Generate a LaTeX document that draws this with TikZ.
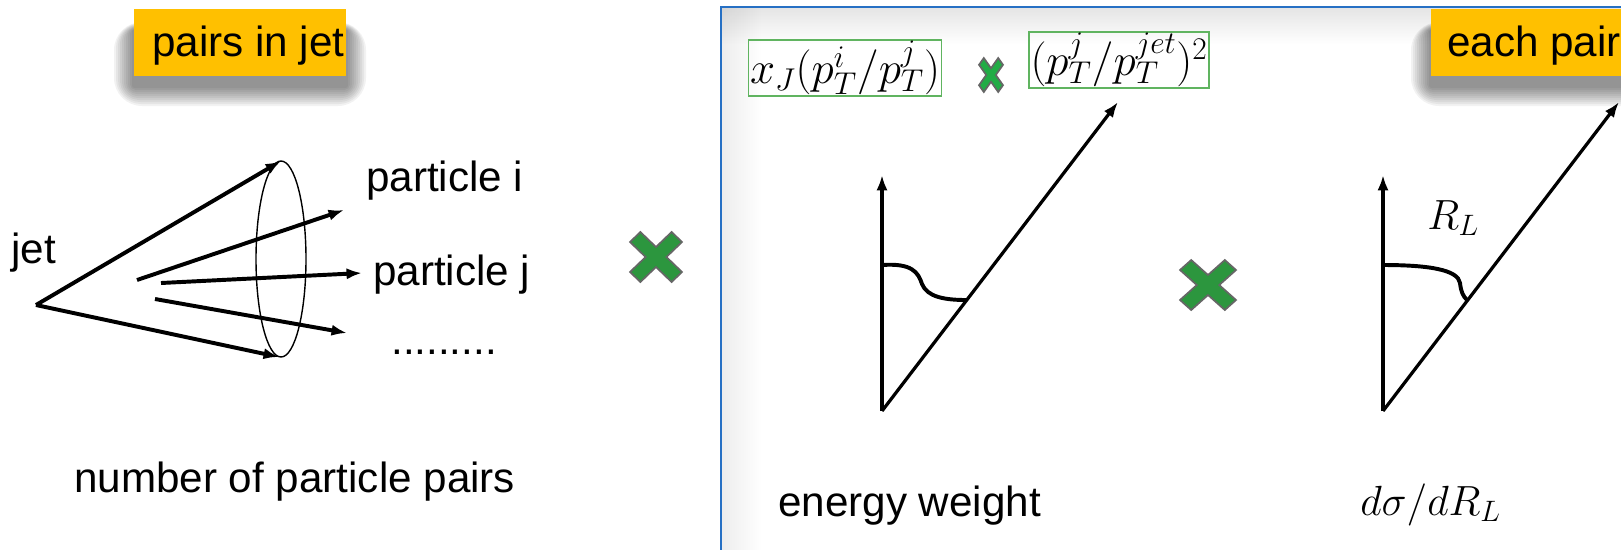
\RequirePackage{fix-cm}
\documentclass[tikz,border=0pt]{standalone}
\usepackage[no-math]{fontspec}
\setmainfont{Liberation Sans}
\usetikzlibrary{arrows.meta,fadings}

\definecolor{orangepp}{RGB}{255,192,0}
\definecolor{vertx}{RGB}{44,150,62}
\definecolor{vertclair}{RGB}{34,172,70}
\definecolor{vertcadre}{RGB}{96,180,96}
\definecolor{bleucadre}{RGB}{38,112,196}

\tikzfading[name=versbas, top color=transparent!0, bottom color=transparent!100]
\tikzfading[name=versdroite, left color=transparent!0, right color=transparent!100]

\tikzset{
  fleche/.style={line width=2.3pt, -{Latex[length=11pt,width=8pt]}},
  arc/.style={line width=2.8pt},
  texte/.style={inner sep=0pt, anchor=base west, font=\fontsize{30}{36}\selectfont},
  formule/.style={draw=vertcadre, line width=1pt, inner sep=1pt,
    minimum height=1.35cm, font=\fontsize{32}{38}\selectfont},
  croix/.pic={
    \filldraw[draw=black!60, line width=1.2pt, pic actions]
      (0,0.4) -- (0.6,1) -- (1,0.6) -- (0.4,0) -- (1,-0.6) -- (0.6,-1)
      -- (0,-0.4) -- (-0.6,-1) -- (-1,-0.6) -- (-0.4,0) -- (-1,0.6) -- (-0.6,1) -- cycle;
  }
}

\begin{document}
\begin{tikzpicture}[x=0.025cm, y=-0.025cm]
        \useasboundingbox (0,0) rectangle (1621,549);
        \fill[white] (0,0) rectangle (1621,549);
        % Cadre de droite avec ombre interieure
        \fill[black, opacity=0.10, path fading=versbas] (722,8) rectangle (1640,44);
        \fill[black, opacity=0.07, path fading=versdroite] (722,8) rectangle (762,570);
        \draw[bleucadre, line width=2pt] (721,7) rectangle (1640,570);
        % Etiquettes orange avec ombre
        \foreach \s in {2,4,...,20} {
          \fill[black, opacity=0.05, rounded corners=\s pt] (134-\s,30-0.4*\s) rectangle (346+\s,86+\s);
          \fill[black, opacity=0.05, rounded corners=\s pt] (1431-\s,30-0.4*\s) rectangle (1660+\s,86+\s);
        }
        \fill[orangepp] (134,9) rectangle (346,76);
        \fill[orangepp] (1431,9) rectangle (1660,76);
        \node[texte] (paires) at (152,56) {pairs in jet};
        \node[texte] (chaque) at (1447,56) {each pair};
        % Cone du jet
        \coordinate (sommet) at (36,305);
        \coordinate (haut) at (281,161);
        \coordinate (bas) at (279,357);
        \draw[line width=1pt] (281,259) ellipse (25 and 98);
        \draw[fleche, line width=2.8pt] (sommet) -- (haut);
        \draw[fleche, line width=2.8pt] (sommet) -- (bas);
        \coordinate (di) at (137,280);
        \coordinate (dj) at (161,283);
        \coordinate (dk) at (155,299);
        \coordinate (fi) at (344,210);
        \coordinate (fj) at (362,273);
        \coordinate (fk) at (347,333);
        \draw[fleche, line width=2.8pt] (di) -- (fi);
        \draw[fleche, line width=2.8pt] (dj) -- (fj);
        \draw[fleche, line width=2.8pt] (dk) -- (fk);
        \node[texte] (jet) at (11,263) {jet};
        \node[texte] (parti) at (366,191) {particle i};
        \node[texte] (partj) at (373,285) {particle j};
        \node[texte] (points) at (391,354) {.........};
        \node[texte] (nombre) at (74,492) {number of particle pairs};
        % Croix de multiplication
        \pic[fill=vertx, xscale=26, yscale=25] (x1) at (656,257) {croix};
        \pic[fill=vertx, xscale=28, yscale=25] (x2) at (1208,285) {croix};
        \pic[fill=vertclair, xscale=12, yscale=17] (x3) at (991,75) {croix};
        % Poids en energie
        \node[formule, minimum width=4.75cm] (xj) at (845,68) {$x_J(p_T^i/p_T^j)$};
        \node[formule, minimum width=4.45cm] (ratio) at (1119,60) {$(p_T^j/p_T^{jet})^2$};
        % Premier angle
        \coordinate (o1) at (882,411);
        \coordinate (v1) at (882,175);
        \coordinate (d1) at (1118,102);
        \draw[fleche] (o1) -- (v1);
        \draw[fleche] (o1) -- (d1);
        \draw[arc] (882,265) .. controls (912,263) and (918,272) .. (922,284)
          .. controls (927,297) and (945,300) .. (966,300);
        \node[texte] (poids) at (778,516) {energy weight};
        % Second angle
        \coordinate (o2) at (1383,411);
        \coordinate (v2) at (1383,175);
        \coordinate (d2) at (1619,102);
        \draw[fleche] (o2) -- (v2);
        \draw[fleche] (o2) -- (d2);
        \draw[arc] (1383,265) .. controls (1430,265) and (1458,270) .. (1460,283)
          .. controls (1461,292) and (1463,296) .. (1467,300);
        \node[texte] (rl) at (1427,229) {$R_L$};
        \node[texte] (dsig) at (1360,515) {$d\sigma/dR_L$};
    \end{tikzpicture}
\end{document}
